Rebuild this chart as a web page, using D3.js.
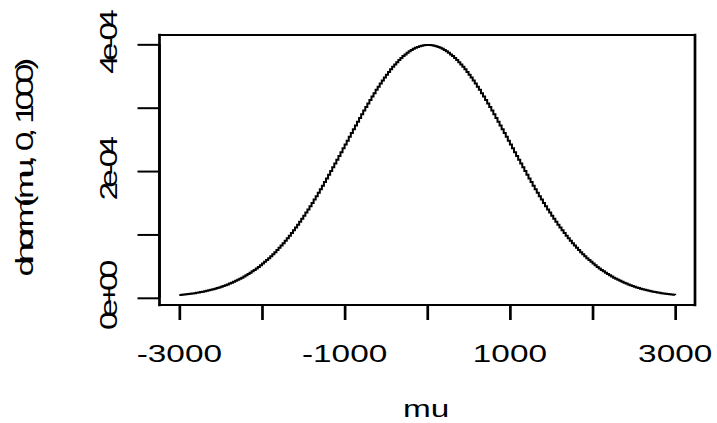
<!DOCTYPE html>
<html>
<head>
<meta charset="utf-8">
<script src="https://cdn.jsdelivr.net/npm/d3@7"></script>
<style>
  html, body { margin: 0; padding: 0; background: #fff; }
  svg { display: block; }
  text { font-family: "Liberation Sans", Arial, sans-serif; fill: #000; }
</style>
</head>
<body>
<svg id="chart" width="717" height="423"></svg>
<script>
// Normal density with mean 0 and sd 1000, evaluated every 25 units
const mu = [
  -3000, -2975, -2950, -2925, -2900, -2875, -2850, -2825, -2800, -2775,
  -2750, -2725, -2700, -2675, -2650, -2625, -2600, -2575, -2550, -2525,
  -2500, -2475, -2450, -2425, -2400, -2375, -2350, -2325, -2300, -2275,
  -2250, -2225, -2200, -2175, -2150, -2125, -2100, -2075, -2050, -2025,
  -2000, -1975, -1950, -1925, -1900, -1875, -1850, -1825, -1800, -1775,
  -1750, -1725, -1700, -1675, -1650, -1625, -1600, -1575, -1550, -1525,
  -1500, -1475, -1450, -1425, -1400, -1375, -1350, -1325, -1300, -1275,
  -1250, -1225, -1200, -1175, -1150, -1125, -1100, -1075, -1050, -1025,
  -1000, -975, -950, -925, -900, -875, -850, -825, -800, -775,
  -750, -725, -700, -675, -650, -625, -600, -575, -550, -525,
  -500, -475, -450, -425, -400, -375, -350, -325, -300, -275,
  -250, -225, -200, -175, -150, -125, -100, -75, -50, -25,
  0,
  25, 50, 75, 100, 125, 150, 175, 200, 225, 250,
  275, 300, 325, 350, 375, 400, 425, 450, 475, 500,
  525, 550, 575, 600, 625, 650, 675, 700, 725, 750,
  775, 800, 825, 850, 875, 900, 925, 950, 975, 1000,
  1025, 1050, 1075, 1100, 1125, 1150, 1175, 1200, 1225, 1250,
  1275, 1300, 1325, 1350, 1375, 1400, 1425, 1450, 1475, 1500,
  1525, 1550, 1575, 1600, 1625, 1650, 1675, 1700, 1725, 1750,
  1775, 1800, 1825, 1850, 1875, 1900, 1925, 1950, 1975, 2000,
  2025, 2050, 2075, 2100, 2125, 2150, 2175, 2200, 2225, 2250,
  2275, 2300, 2325, 2350, 2375, 2400, 2425, 2450, 2475, 2500,
  2525, 2550, 2575, 2600, 2625, 2650, 2675, 2700, 2725, 2750,
  2775, 2800, 2825, 2850, 2875, 2900, 2925, 2950, 2975, 3000
];

const density = [
  4.43e-6, 4.78e-6, 5.14e-6, 5.53e-6, 5.95e-6, 6.40e-6, 6.87e-6, 7.38e-6, 7.92e-6, 8.48e-6,
  9.09e-6, 9.74e-6, 1.042e-5, 1.115e-5, 1.191e-5, 1.273e-5, 1.358e-5, 1.449e-5, 1.545e-5, 1.646e-5,
  1.753e-5, 1.865e-5, 1.984e-5, 2.108e-5, 2.239e-5, 2.377e-5, 2.521e-5, 2.674e-5, 2.832e-5, 2.999e-5,
  3.174e-5, 3.357e-5, 3.547e-5, 3.747e-5, 3.955e-5, 4.172e-5, 4.398e-5, 4.634e-5, 4.879e-5, 5.134e-5,
  5.399e-5, 5.674e-5, 5.960e-5, 6.255e-5, 6.562e-5, 6.879e-5, 7.206e-5, 7.545e-5, 7.895e-5, 8.256e-5,
  8.628e-5, 9.011e-5, 9.405e-5, 9.810e-5, 1.0226e-4, 1.0654e-4, 1.1092e-4, 1.1541e-4, 1.2001e-4, 1.2471e-4,
  1.2952e-4, 1.3443e-4, 1.3943e-4, 1.4453e-4, 1.4973e-4, 1.5501e-4, 1.6038e-4, 1.6584e-4, 1.7137e-4, 1.7697e-4,
  1.8265e-4, 1.8839e-4, 1.9419e-4, 2.0004e-4, 2.0594e-4, 2.1188e-4, 2.1785e-4, 2.2386e-4, 2.2988e-4, 2.3592e-4,
  2.4197e-4, 2.4802e-4, 2.5406e-4, 2.6008e-4, 2.6609e-4, 2.7205e-4, 2.7798e-4, 2.8386e-4, 2.8969e-4, 2.9545e-4,
  3.0114e-4, 3.0674e-4, 3.1225e-4, 3.1766e-4, 3.2297e-4, 3.2816e-4, 3.3322e-4, 3.3815e-4, 3.4294e-4, 3.4758e-4,
  3.5207e-4, 3.5638e-4, 3.6053e-4, 3.6449e-4, 3.6827e-4, 3.7186e-4, 3.7524e-4, 3.7842e-4, 3.8139e-4, 3.8414e-4,
  3.8667e-4, 3.8897e-4, 3.9104e-4, 3.9288e-4, 3.9448e-4, 3.9584e-4, 3.9695e-4, 3.9782e-4, 3.9844e-4, 3.9882e-4,
  3.9894e-4,
  3.9882e-4, 3.9844e-4, 3.9782e-4, 3.9695e-4, 3.9584e-4, 3.9448e-4, 3.9288e-4, 3.9104e-4, 3.8897e-4, 3.8667e-4,
  3.8414e-4, 3.8139e-4, 3.7842e-4, 3.7524e-4, 3.7186e-4, 3.6827e-4, 3.6449e-4, 3.6053e-4, 3.5638e-4, 3.5207e-4,
  3.4758e-4, 3.4294e-4, 3.3815e-4, 3.3322e-4, 3.2816e-4, 3.2297e-4, 3.1766e-4, 3.1225e-4, 3.0674e-4, 3.0114e-4,
  2.9545e-4, 2.8969e-4, 2.8386e-4, 2.7798e-4, 2.7205e-4, 2.6609e-4, 2.6008e-4, 2.5406e-4, 2.4802e-4, 2.4197e-4,
  2.3592e-4, 2.2988e-4, 2.2386e-4, 2.1785e-4, 2.1188e-4, 2.0594e-4, 2.0004e-4, 1.9419e-4, 1.8839e-4, 1.8265e-4,
  1.7697e-4, 1.7137e-4, 1.6584e-4, 1.6038e-4, 1.5501e-4, 1.4973e-4, 1.4453e-4, 1.3943e-4, 1.3443e-4, 1.2952e-4,
  1.2471e-4, 1.2001e-4, 1.1541e-4, 1.1092e-4, 1.0654e-4, 1.0226e-4, 9.810e-5, 9.405e-5, 9.011e-5, 8.628e-5,
  8.256e-5, 7.895e-5, 7.545e-5, 7.206e-5, 6.879e-5, 6.562e-5, 6.255e-5, 5.960e-5, 5.674e-5, 5.399e-5,
  5.134e-5, 4.879e-5, 4.634e-5, 4.398e-5, 4.172e-5, 3.955e-5, 3.747e-5, 3.547e-5, 3.357e-5, 3.174e-5,
  2.999e-5, 2.832e-5, 2.674e-5, 2.521e-5, 2.377e-5, 2.239e-5, 2.108e-5, 1.984e-5, 1.865e-5, 1.753e-5,
  1.646e-5, 1.545e-5, 1.449e-5, 1.358e-5, 1.273e-5, 1.191e-5, 1.115e-5, 1.042e-5, 9.74e-6, 9.09e-6,
  8.48e-6, 7.92e-6, 7.38e-6, 6.87e-6, 6.40e-6, 5.95e-6, 5.53e-6, 5.14e-6, 4.78e-6, 4.43e-6
];

const xTicks = [-3000, -2000, -1000, 0, 1000, 2000, 3000];
const xTickLabels = ["-3000", "", "-1000", "", "1000", "", "3000"];
const yTicks = [0, 1e-4, 2e-4, 3e-4, 4e-4];
const yTickLabels = ["0e+00", "", "2e-04", "", "4e-04"];

const xTitle = "mu";
const yTitle = "dnorm(mu, 0, 1000)";

// ---- layout ----
const plot = { left: 159.5, right: 695, top: 35, bottom: 305 };
const fontSize = 23;
const titleSize = 24.5;
const stretch = 1.45;      // wide glyph rendering of this device
const hLine = 2, vLine = 2.7;

const svg = d3.select("#chart");

// R-style axis extension: 4% padding on each side of the data range
function padded(ext) {
  const d = (ext[1] - ext[0]) * 0.04;
  return [ext[0] - d, ext[1] + d];
}

const x = d3.scaleLinear().domain(padded(d3.extent(mu))).range([plot.left, plot.right]);
const y = d3.scaleLinear().domain(padded(d3.extent(density))).range([plot.bottom, plot.top]);

// ---- step curve ----
const pts = mu.map((m, i) => [m, density[i]]);
svg.append("path")
  .datum(pts)
  .attr("fill", "none")
  .attr("stroke", "#000")
  .attr("stroke-width", 2)
  .attr("d", d3.line().x(d => x(d[0])).y(d => y(d[1])).curve(d3.curveStepAfter));

// ---- box ----
const box = svg.append("g").attr("stroke", "#000").attr("stroke-linecap", "square");
box.append("line").attr("x1", plot.left).attr("x2", plot.right).attr("y1", plot.top).attr("y2", plot.top).attr("stroke-width", hLine);
box.append("line").attr("x1", plot.left).attr("x2", plot.right).attr("y1", plot.bottom).attr("y2", plot.bottom).attr("stroke-width", hLine);
box.append("line").attr("x1", plot.left).attr("x2", plot.left).attr("y1", plot.top).attr("y2", plot.bottom).attr("stroke-width", vLine);
box.append("line").attr("x1", plot.right).attr("x2", plot.right).attr("y1", plot.top).attr("y2", plot.bottom).attr("stroke-width", vLine);

// ---- x axis ----
const xAxis = d3.axisBottom(x).tickValues(xTicks).tickSize(15).tickFormat("");
const gx = svg.append("g").attr("transform", `translate(0,${plot.bottom})`).call(xAxis);
gx.select(".domain").attr("stroke", "#000").attr("stroke-width", hLine)
  .attr("d", `M${x(xTicks[0])},0H${x(xTicks[xTicks.length - 1])}`);
gx.selectAll(".tick line").attr("stroke", "#000").attr("stroke-width", vLine);

xTicks.forEach((t, i) => {
  if (!xTickLabels[i]) return;
  svg.append("text")
    .attr("transform", `translate(${x(t)},361.5) scale(${stretch},1)`)
    .attr("text-anchor", "middle")
    .attr("font-size", fontSize)
    .text(xTickLabels[i]);
});

svg.append("text")
  .attr("transform", `translate(${(plot.left + plot.right) / 2 - 1},416.5) scale(${stretch},1)`)
  .attr("text-anchor", "middle")
  .attr("font-size", fontSize)
  .text(xTitle);

// ---- y axis ----
const yAxis = d3.axisLeft(y).tickValues(yTicks).tickSize(22).tickFormat("");
const gy = svg.append("g").attr("transform", `translate(${plot.left},0)`).call(yAxis);
gy.select(".domain").attr("stroke", "#000").attr("stroke-width", vLine)
  .attr("d", `M0,${y(yTicks[0])}V${y(yTicks[yTicks.length - 1])}`);
gy.selectAll(".tick line").attr("stroke", "#000").attr("stroke-width", hLine);

// Rotated text: natural advances, each glyph widened along the baseline
const measure = svg.append("text")
  .attr("xml:space", "preserve")
  .style("white-space", "pre")
  .attr("visibility", "hidden");
function width(s, size) {
  if (!s.length) return 0;
  // trailing blanks are measured through a sentinel character
  measure.attr("font-size", size).text(s + "|");
  const w = measure.node().getComputedTextLength();
  measure.text("|");
  return w - measure.node().getComputedTextLength();
}

function verticalLabel(str, bx, cy, size) {
  const total = width(str, size);
  const g = svg.append("g").attr("transform", `translate(${bx},${cy}) rotate(-90)`);
  for (let i = 0; i < str.length; i++) {
    const ch = str[i];
    if (ch === " ") continue;
    const off = width(str.slice(0, i), size);
    g.append("text")
      .attr("transform", `translate(${-total / 2 + off},0) scale(${stretch},1)`)
      .attr("font-size", size)
      .text(ch);
  }
}

yTicks.forEach((t, i) => {
  if (!yTickLabels[i]) return;
  verticalLabel(yTickLabels[i], 116.5, y(t), fontSize);
});
verticalLabel(yTitle, 32.5, (plot.top + plot.bottom) / 2 - 1, titleSize);
measure.remove();
</script>
</body>
</html>
